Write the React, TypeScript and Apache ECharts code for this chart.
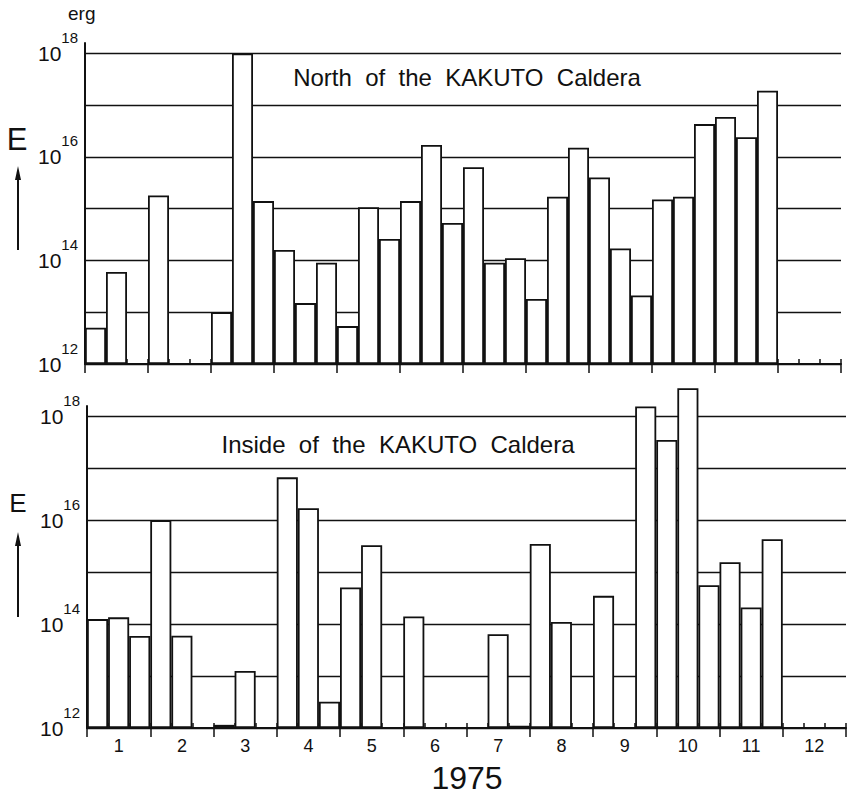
import { useEffect, useRef } from 'react';
import * as echarts from 'echarts';

// ---- data (energy in erg per 10-day period, 1975) ----
const months = ['1', '2', '3', '4', '5', '6', '7', '8', '9', '10', '11', '12'];
const decades = months.flatMap((m) => [`${m}-I`, `${m}-II`, `${m}-III`]);

const northEnergy: (number | null)[] = [
  5e12, 6e13, null,
  1.8e15, null, null,
  1e13, 1e18, 1.4e15,
  1.6e14, 1.5e13, 9e13,
  5.4e12, 1.07e15, 2.6e14,
  1.4e15, 1.7e16, 5.3e14,
  6.3e15, 9e13, 1.1e14,
  1.8e13, 1.7e15, 1.5e16,
  4e15, 1.7e14, 2.1e13,
  1.5e15, 1.7e15, 4.3e16,
  5.9e16, 2.4e16, 1.9e17,
  null, null, null,
];

const insideEnergy: (number | null)[] = [
  1.25e14, 1.35e14, 5.9e13,
  1e16, 6e13, null,
  1.15e12, 1.25e13, null,
  6.7e16, 1.7e16, 3.2e12,
  5.1e14, 3.3e15, null,
  1.4e14, null, null,
  null, 6.4e13, 1.1e12,
  3.5e15, 1.1e14, null,
  3.5e14, null, 1.55e18,
  3.5e17, 3.5e18, 5.6e14,
  1.55e15, 2.1e14, 4.3e15,
  null, null, null,
];

const minExp = 12;
const maxExp = 18.2;
const panelTitles = ['North  of  the  KAKUTO  Caldera', 'Inside  of  the  KAKUTO  Caldera'];
const yearLabel = '1975';
const unitLabel = 'erg';

const FONT = 'Liberation Sans';
const INK = '#111';

const toBar = (v: number | null) => (v == null ? null : Math.log10(v) - minExp);

function yAxis(gridIndex: number) {
  return {
    type: 'value',
    gridIndex,
    min: 0,
    max: maxExp - minExp,
    interval: 1,
    axisLine: { show: true, lineStyle: { color: INK, width: 2 } },
    axisTick: { show: false },
    splitLine: { show: true, showMaxLine: false, lineStyle: { color: INK, width: 1.3 } },
    axisLabel: {
      showMaxLabel: false,
      margin: 7,
      formatter: (v: number) => {
        const r = Math.round(v);
        if (Math.abs(v - r) > 1e-6) return '';
        const e = r + minExp;
        if (e % 2 !== 0) return '';
        return `{b|10}{s|${e}}`;
      },
      rich: {
        b: { fontFamily: FONT, fontSize: 21, lineHeight: 22, color: INK },
        s: { fontFamily: FONT, fontSize: 15, lineHeight: 16, padding: [0, 0, 32, 0], color: INK },
      },
    },
  };
}

function xAxes(gridIndex: number, showLabels: boolean) {
  return [
    {
      type: 'category',
      gridIndex,
      data: decades,
      position: 'bottom',
      boundaryGap: true,
      axisLine: { show: true, lineStyle: { color: INK, width: 2 } },
      axisTick: { show: true, inside: true, length: 5, interval: 0, lineStyle: { color: INK, width: 1.5 } },
      axisLabel: { show: false },
      splitLine: { show: false },
    },
    {
      type: 'category',
      gridIndex,
      data: months,
      position: 'bottom',
      boundaryGap: true,
      axisLine: { show: false },
      axisTick: { show: true, inside: false, length: 9, interval: 0, lineStyle: { color: INK, width: 1.5 } },
      axisLabel: {
        show: showLabels,
        interval: 0,
        margin: 9,
        fontFamily: FONT,
        fontSize: 18,
        color: INK,
      },
      splitLine: { show: false },
    },
  ];
}

function barSeries(axisIdx: number, yIdx: number, values: (number | null)[]) {
  return {
    type: 'bar',
    xAxisIndex: axisIdx,
    yAxisIndex: yIdx,
    data: values.map(toBar),
    barCategoryGap: '0%',
    barGap: '0%',
    clip: false,
    silent: true,
    itemStyle: { color: '#fff', borderColor: INK, borderWidth: 1.8 },
  };
}

function arrow(x: number, yTop: number, yBottom: number) {
  return [
    { type: 'line', shape: { x1: x, y1: yBottom, x2: x, y2: yTop + 8 }, style: { stroke: INK, lineWidth: 2 } },
    { type: 'polygon', shape: { points: [[x, yTop], [x - 3, yTop + 14], [x + 3, yTop + 14]] }, style: { fill: INK } },
  ];
}

export default function App() {
  const ref = useRef<HTMLDivElement>(null);
  useEffect(() => {
    if (!ref.current) return;
    const chart = echarts.init(ref.current, undefined, { renderer: 'svg' });
    chart.setOption({
      animation: false,
      backgroundColor: '#fff',
      grid: [
        { left: 85, width: 756, top: 43, height: 321 },
        { left: 87, width: 759, top: 406, height: 322 },
      ],
      xAxis: [...xAxes(0, false), ...xAxes(1, true)],
      yAxis: [yAxis(0), yAxis(1)],
      series: [barSeries(0, 0, northEnergy), barSeries(2, 1, insideEnergy)],
      graphic: [
        { type: 'text', left: 68, top: 4, style: { text: unitLabel, fontFamily: FONT, fontSize: 19, fill: INK } },
        {
          type: 'text', x: 467, y: 77,
          style: { text: panelTitles[0], fontFamily: FONT, fontSize: 24, fill: INK, align: 'center', verticalAlign: 'middle' },
        },
        {
          type: 'text', x: 398, y: 444,
          style: { text: panelTitles[1], fontFamily: FONT, fontSize: 24, fill: INK, align: 'center', verticalAlign: 'middle' },
        },
        {
          type: 'text', x: 467, y: 778,
          style: { text: yearLabel, fontFamily: FONT, fontSize: 32, fill: INK, align: 'center', verticalAlign: 'middle' },
        },
        {
          type: 'text', x: 17, y: 139,
          style: { text: 'E', fontFamily: FONT, fontSize: 31, fill: INK, align: 'center', verticalAlign: 'middle' },
        },
        {
          type: 'text', x: 18, y: 503,
          style: { text: 'E', fontFamily: FONT, fontSize: 26, fill: INK, align: 'center', verticalAlign: 'middle' },
        },
        ...arrow(18, 166, 250),
        ...arrow(18, 532, 617),
      ],
    });
    return () => chart.dispose();
  }, []);
  return <div ref={ref} style={{ position: 'absolute', left: 0, top: 0, width: 848, height: 795 }} />;
}
